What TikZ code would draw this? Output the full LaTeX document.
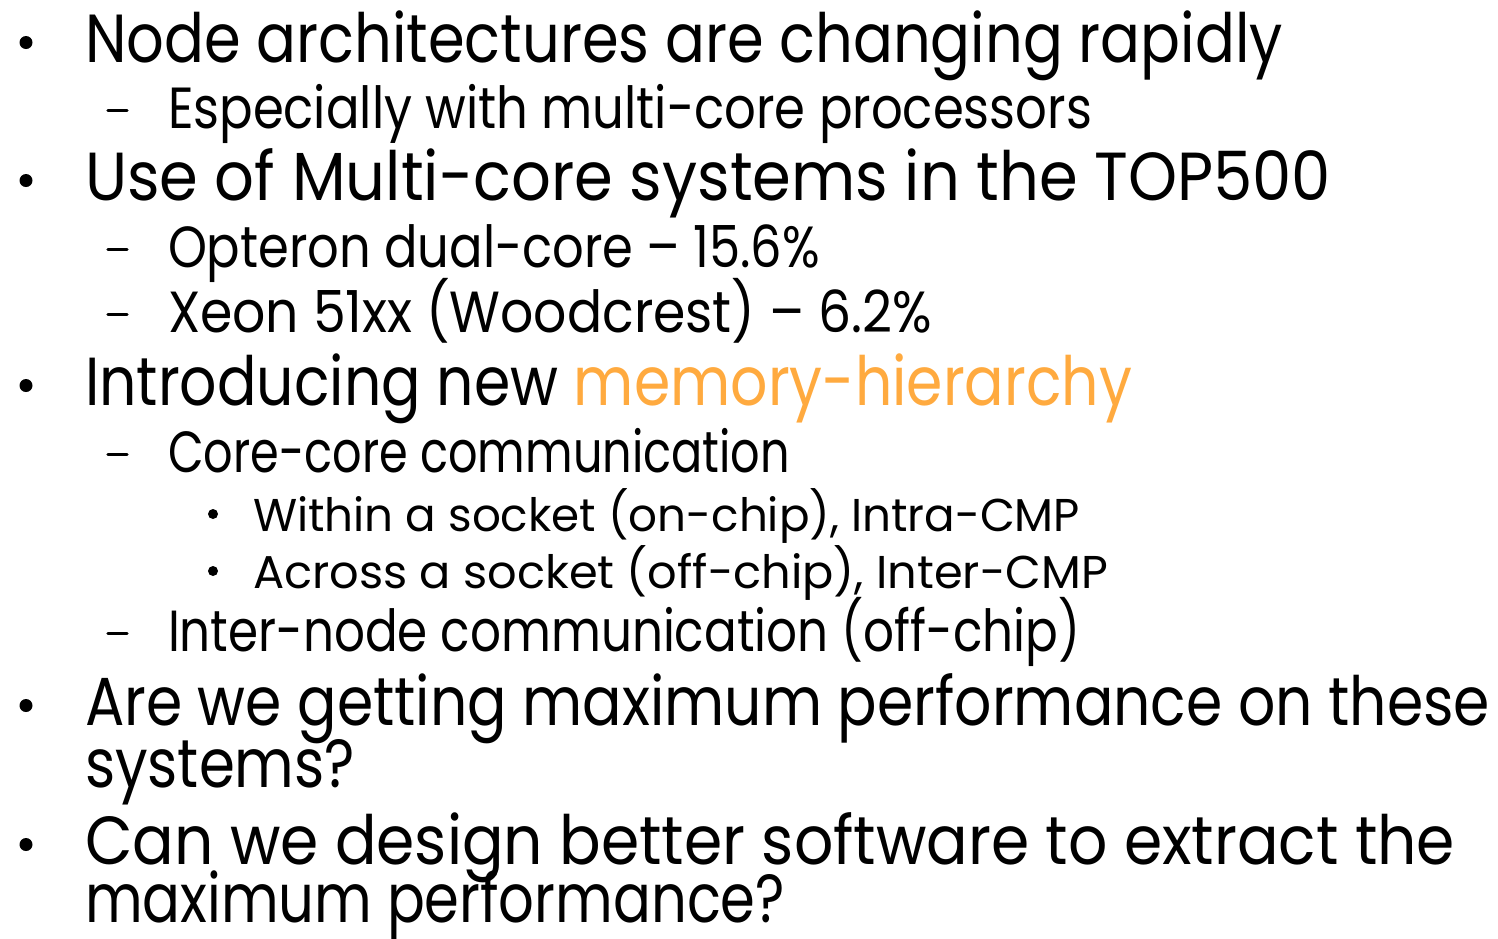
\documentclass[tikz,border=0pt]{standalone}
\usepackage{fontspec}
\usepackage{graphicx}
\setmainfont{Poppins}
\definecolor{hiorange}{HTML}{FFAA3F}
\newcommand\fitw[2]{\resizebox{#1}{\height}{#2}}
\begin{document}
\begin{tikzpicture}[x=1pt,y=-1pt,
  lone/.style={anchor=base west,inner sep=0pt,outer sep=0pt,font=\fontsize{68}{80}\selectfont},
  ltwo/.style={anchor=base west,inner sep=0pt,outer sep=0pt,font=\fontsize{58}{68}\selectfont},
  lthree/.style={anchor=base west,inner sep=0pt,outer sep=0pt,font=\fontsize{46}{54}\selectfont},
  dashbar/.style={line width=3.4pt,line cap=round}]
\useasboundingbox (0,0) rectangle (1498,938);
\fill[white] (0,0) rectangle (1498,938);
% level 1 lines
\node[lone] (l1) at (85,62) {\fitw{1198pt}{Node architectures are changing rapidly}};
\node[lone] (l3) at (85,200) {\fitw{1246pt}{Use of Multi-core systems in the TOP500}};
\node[lone] (l6) at (85,405) {\fitw{1047pt}{Introducing new \textcolor{hiorange}{memory-hierarchy}}};
\node[lone] (l11) at (85,725) {\fitw{1405pt}{Are we getting maximum performance on these}};
\node[lone] (l12) at (85,787) {\fitw{270pt}{systems?}};
\node[lone] (l13) at (85,864) {\fitw{1370pt}{Can we design better software to extract the}};
\node[lone] (l14) at (85,922) {\fitw{700pt}{maximum performance?}};
% level 2 lines
\node[ltwo] (l2) at (168,128) {\fitw{924pt}{Especially with multi-core processors}};
\node[ltwo] (l4) at (168,267) {\fitw{652pt}{Opteron dual-core – 15.6\%}};
\node[ltwo] (l5) at (168,332) {\fitw{764pt}{Xeon 51xx (Woodcrest) – 6.2\%}};
\node[ltwo] (l7) at (168,472) {\fitw{622pt}{Core-core communication}};
\node[ltwo] (l10) at (168,651) {\fitw{912pt}{Inter-node communication (off-chip)}};
% level 3 lines
\node[lthree] (l8) at (253,531) {\fitw{827pt}{Within a socket (on-chip), Intra-CMP}};
\node[lthree] (l9) at (253,588) {\fitw{855pt}{Across a socket (off-chip), Inter-CMP}};
% bullets
\foreach \yy in {42.5,180.5,385.5,705.5,844.5} \fill (26,\yy) circle[radius=6.5pt];
\foreach \yy in {514,571} \fill (213,\yy) circle[radius=5pt];
% dashes
\foreach \yy in {110.5,249.5,314.5,454.5,633.5} \draw[dashbar] (108,\yy) -- (127,\yy);
\end{tikzpicture}
\end{document}
